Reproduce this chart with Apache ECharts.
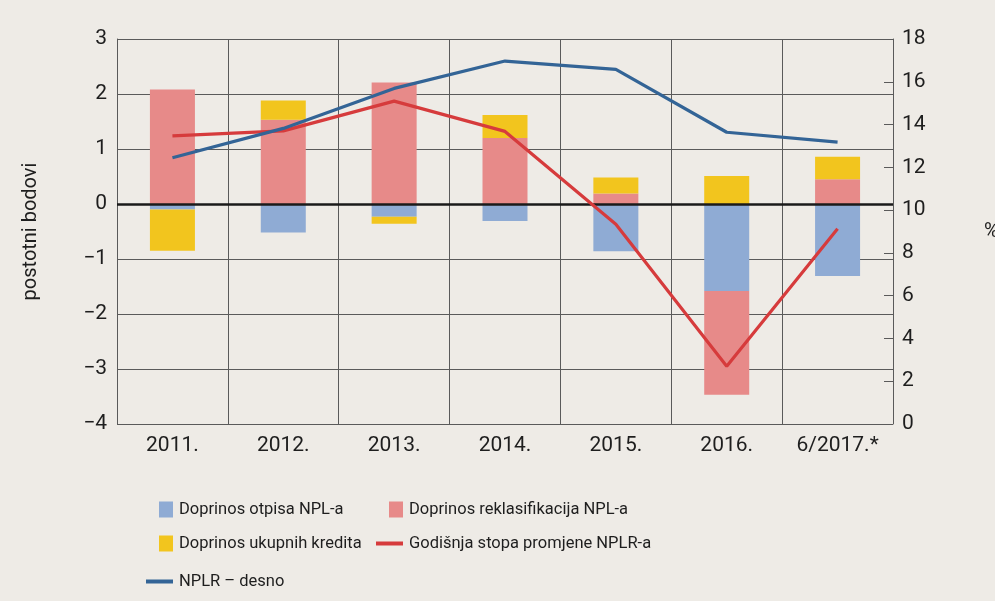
<!DOCTYPE html>
<html>
<head>
<meta charset="utf-8">
<script src="https://cdn.jsdelivr.net/npm/echarts@6/dist/echarts.min.js"></script>
<style>
html, body { margin: 0; padding: 0; background: #eeebe6; overflow: hidden; }
#chart { width: 995px; height: 601px; }
</style>
</head>
<body>
<div id="chart"></div>
<script>
var categories = ['2011.', '2012.', '2013.', '2014.', '2015.', '2016.', '6/2017.*'];
// doprinosi u postotnim bodovima (lijeva os)
var otpisi = [-0.10, -0.52, -0.23, -0.31, -0.86, -1.58, -1.31];
var reklasifikacije = [2.08, 1.53, 2.21, 1.20, 0.19, -1.89, 0.45];
var ukupniKrediti = [-0.75, 0.35, -0.13, 0.42, 0.29, 0.51, 0.41];
var stopaPromjene = [1.24, 1.33, 1.87, 1.32, -0.37, -2.95, -0.45];
// NPLR u % (desna os)
var nplr = [12.45, 13.82, 15.69, 16.97, 16.58, 13.64, 13.18];

var FONT = "Roboto, 'Liberation Sans', sans-serif";
var gridColor = '#5a5a5a';
var textColor = '#1e1e1e';

var chart = echarts.init(document.getElementById('chart'));

function legendBox(name, left, top, line) {
    return {
        data: [name],
        left: left,
        top: top,
        padding: 0,
        orient: 'horizontal',
        icon: 'rect',
        itemWidth: line ? 27 : 14,
        itemHeight: line ? 4 : 16,
        itemGap: 0,
        selectedMode: false,
        textStyle: {color: textColor, fontSize: 16.5, fontFamily: FONT, padding: [0, 0, 0, 1]}
    };
}

chart.setOption({
    backgroundColor: '#eeebe6',
    animation: false,
    textStyle: {fontFamily: FONT},
    grid: {left: 117, right: 102, top: 39, bottom: 177, outerBoundsMode: 'none'},
    legend: [
        legendBox('Doprinos otpisa NPL-a', 159, 501, false),
        legendBox('Doprinos reklasifikacija NPL-a', 389, 501, false),
        legendBox('Doprinos ukupnih kredita', 159, 535, false),
        legendBox('Godišnja stopa promjene NPLR-a', 376, 535, true),
        legendBox('NPLR – desno', 146, 573, true)
    ],
    xAxis: {
        type: 'category',
        data: categories,
        axisLine: {show: false},
        axisTick: {show: false},
        axisLabel: {color: textColor, fontSize: 21, margin: 11, fontFamily: FONT},
        splitLine: {show: true, lineStyle: {color: gridColor, width: 1}}
    },
    yAxis: [
        {
            type: 'value',
            min: -4,
            max: 3,
            interval: 1,
            name: 'postotni bodovi',
            nameLocation: 'middle',
            nameGap: 76,
            nameTextStyle: {color: textColor, fontSize: 20, fontFamily: FONT},
            axisLine: {show: true, lineStyle: {color: gridColor}},
            axisTick: {show: false},
            axisLabel: {
                color: textColor, fontSize: 21, margin: 10, fontFamily: FONT,
                formatter: function (v) { return v < 0 ? '\u2212' + Math.abs(v) : String(v); }
            },
            splitLine: {show: true, lineStyle: {color: gridColor, width: 1}}
        },
        {
            type: 'value',
            min: 0,
            max: 18,
            interval: 2,
            position: 'right',
            name: '%',
            nameLocation: 'middle',
            nameRotate: 0,
            nameGap: 91,
            nameTextStyle: {color: textColor, fontSize: 20, fontFamily: FONT},
            axisLine: {show: true, lineStyle: {color: gridColor}},
            axisTick: {show: true, inside: true, length: 9, lineStyle: {color: gridColor}},
            axisLabel: {color: textColor, fontSize: 21, margin: 9, fontFamily: FONT},
            splitLine: {show: false}
        }
    ],
    series: [
        {
            name: 'Doprinos otpisa NPL-a',
            type: 'bar',
            stack: 'doprinos',
            barWidth: 45,
            itemStyle: {color: '#8fabd4'},
            data: otpisi
        },
        {
            name: 'Doprinos reklasifikacija NPL-a',
            type: 'bar',
            stack: 'doprinos',
            barWidth: 45,
            itemStyle: {color: '#e78a89'},
            data: reklasifikacije,
            markLine: {
                silent: true,
                symbol: 'none',
                label: {show: false},
                lineStyle: {color: '#1a1a1a', width: 2.5, type: 'solid'},
                data: [{yAxis: 0}]
            }
        },
        {
            name: 'Doprinos ukupnih kredita',
            type: 'bar',
            stack: 'doprinos',
            barWidth: 45,
            itemStyle: {color: '#f2c51e'},
            data: ukupniKrediti
        },
        {
            name: 'Godišnja stopa promjene NPLR-a',
            type: 'line',
            yAxisIndex: 0,
            symbol: 'none',
            lineStyle: {color: '#d63b3c', width: 3.2},
            itemStyle: {color: '#d63b3c'},
            data: stopaPromjene,
            z: 5
        },
        {
            name: 'NPLR – desno',
            type: 'line',
            yAxisIndex: 1,
            symbol: 'none',
            lineStyle: {color: '#336496', width: 3.2},
            itemStyle: {color: '#336496'},
            data: nplr,
            z: 6
        }
    ]
});

window.addEventListener('resize', function () {
    chart.resize();
});
</script>
</body>
</html>
